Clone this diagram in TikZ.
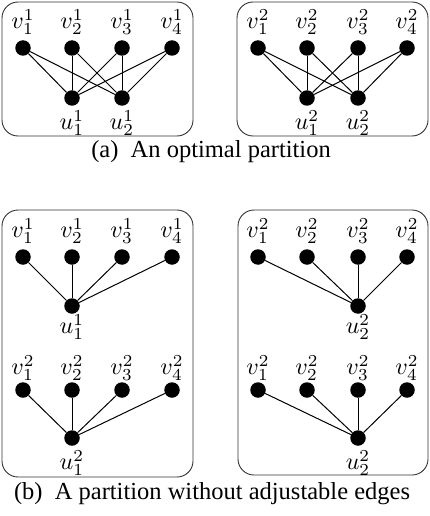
\documentclass[tikz,border=0pt]{standalone}
\usepackage{fontspec}
\setmainfont{Liberation Serif}
\newcommand\mylab[1]{\scalebox{2.4}{$#1$}}
\begin{document}
\begin{tikzpicture}[x=1pt,y=-1pt,
  dot/.style={circle,fill=black,inner sep=0pt,minimum size=15.5pt},
  frame/.style={draw=black!80,line width=0.9pt,rounded corners=16pt},
  lbl/.style={inner sep=0pt},
  captext/.style={inner sep=0pt,font=\fontsize{24.5}{27}\selectfont},
  link/.style={line width=1pt}]
\useasboundingbox (0,0) rectangle (430,516);

% ---------- (a) left box ----------
\draw[frame] (2,2) rectangle (193,136);
\node[dot] (a1v1) at (23,48) {};
\node[dot] (a1v2) at (72,48) {};
\node[dot] (a1v3) at (122,48) {};
\node[dot] (a1v4) at (172,48) {};
\node[dot] (a1u1) at (72,98) {};
\node[dot] (a1u2) at (122,98) {};
\node[lbl] (la1v1) at (23,22) {\mylab{v_1^1}};
\node[lbl] (la1v2) at (72,22) {\mylab{v_2^1}};
\node[lbl] (la1v3) at (122,22) {\mylab{v_3^1}};
\node[lbl] (la1v4) at (172,22) {\mylab{v_4^1}};
\node[lbl] (la1u1) at (72,123) {\mylab{u_1^1}};
\node[lbl] (la1u2) at (122,123) {\mylab{u_2^1}};
\foreach \v in {1,2,3,4}{
  \draw[link] (a1v\v) -- (a1u1);
  \draw[link] (a1v\v) -- (a1u2);
}

% ---------- (a) right box ----------
\draw[frame] (237,2) rectangle (428,136);
\node[dot] (a2v1) at (258,48) {};
\node[dot] (a2v2) at (307,48) {};
\node[dot] (a2v3) at (358,48) {};
\node[dot] (a2v4) at (407,48) {};
\node[dot] (a2u1) at (307,98) {};
\node[dot] (a2u2) at (358,98) {};
\node[lbl] (la2v1) at (258,22) {\mylab{v_1^2}};
\node[lbl] (la2v2) at (307,22) {\mylab{v_2^2}};
\node[lbl] (la2v3) at (358,22) {\mylab{v_3^2}};
\node[lbl] (la2v4) at (407,22) {\mylab{v_4^2}};
\node[lbl] (la2u1) at (307,123) {\mylab{u_1^2}};
\node[lbl] (la2u2) at (358,123) {\mylab{u_2^2}};
\foreach \v in {1,2,3,4}{
  \draw[link] (a2v\v) -- (a2u1);
  \draw[link] (a2v\v) -- (a2u2);
}

\node[captext] (capa) at (211,152) {(a)\enspace An optimal partition};

% ---------- (b) left box ----------
\draw[frame] (2,210) rectangle (193,477);
\node[dot] (b1v1) at (23,257) {};
\node[dot] (b1v2) at (72,257) {};
\node[dot] (b1v3) at (122,257) {};
\node[dot] (b1v4) at (172,257) {};
\node[dot] (b1u) at (72,306) {};
\node[lbl] (lb1v1) at (23,231) {\mylab{v_1^1}};
\node[lbl] (lb1v2) at (72,231) {\mylab{v_2^1}};
\node[lbl] (lb1v3) at (122,231) {\mylab{v_3^1}};
\node[lbl] (lb1v4) at (172,231) {\mylab{v_4^1}};
\node[lbl] (lb1u) at (72,327) {\mylab{u_1^1}};
\node[dot] (c1v1) at (23,390) {};
\node[dot] (c1v2) at (72,390) {};
\node[dot] (c1v3) at (122,390) {};
\node[dot] (c1v4) at (172,390) {};
\node[dot] (c1u) at (72,438) {};
\node[lbl] (lc1v1) at (23,368) {\mylab{v_1^2}};
\node[lbl] (lc1v2) at (72,368) {\mylab{v_2^2}};
\node[lbl] (lc1v3) at (122,368) {\mylab{v_3^2}};
\node[lbl] (lc1v4) at (172,368) {\mylab{v_4^2}};
\node[lbl] (lc1u) at (72,463) {\mylab{u_1^2}};
\foreach \v in {1,2,3,4}{
  \draw[link] (b1v\v) -- (b1u);
  \draw[link] (c1v\v) -- (c1u);
}

% ---------- (b) right box ----------
\draw[frame] (238,210) rectangle (428,475);
\node[dot] (b2v1) at (258,257) {};
\node[dot] (b2v2) at (307,257) {};
\node[dot] (b2v3) at (358,257) {};
\node[dot] (b2v4) at (407,257) {};
\node[dot] (b2u) at (358,306) {};
\node[lbl] (lb2v1) at (258,231) {\mylab{v_1^2}};
\node[lbl] (lb2v2) at (307,231) {\mylab{v_2^2}};
\node[lbl] (lb2v3) at (358,231) {\mylab{v_3^2}};
\node[lbl] (lb2v4) at (407,231) {\mylab{v_4^2}};
\node[lbl] (lb2u) at (358,327) {\mylab{u_2^2}};
\node[dot] (c2v1) at (258,390) {};
\node[dot] (c2v2) at (307,390) {};
\node[dot] (c2v3) at (358,390) {};
\node[dot] (c2v4) at (407,390) {};
\node[dot] (c2u) at (358,438) {};
\node[lbl] (lc2v1) at (258,368) {\mylab{v_1^2}};
\node[lbl] (lc2v2) at (307,368) {\mylab{v_2^2}};
\node[lbl] (lc2v3) at (358,368) {\mylab{v_3^2}};
\node[lbl] (lc2v4) at (407,368) {\mylab{v_4^2}};
\node[lbl] (lc2u) at (358,463) {\mylab{u_2^2}};
\foreach \v in {1,2,3,4}{
  \draw[link] (b2v\v) -- (b2u);
  \draw[link] (c2v\v) -- (c2u);
}

\node[captext] (capb) at (212,494) {(b)\enspace A partition without adjustable edges};
\end{tikzpicture}
\end{document}
